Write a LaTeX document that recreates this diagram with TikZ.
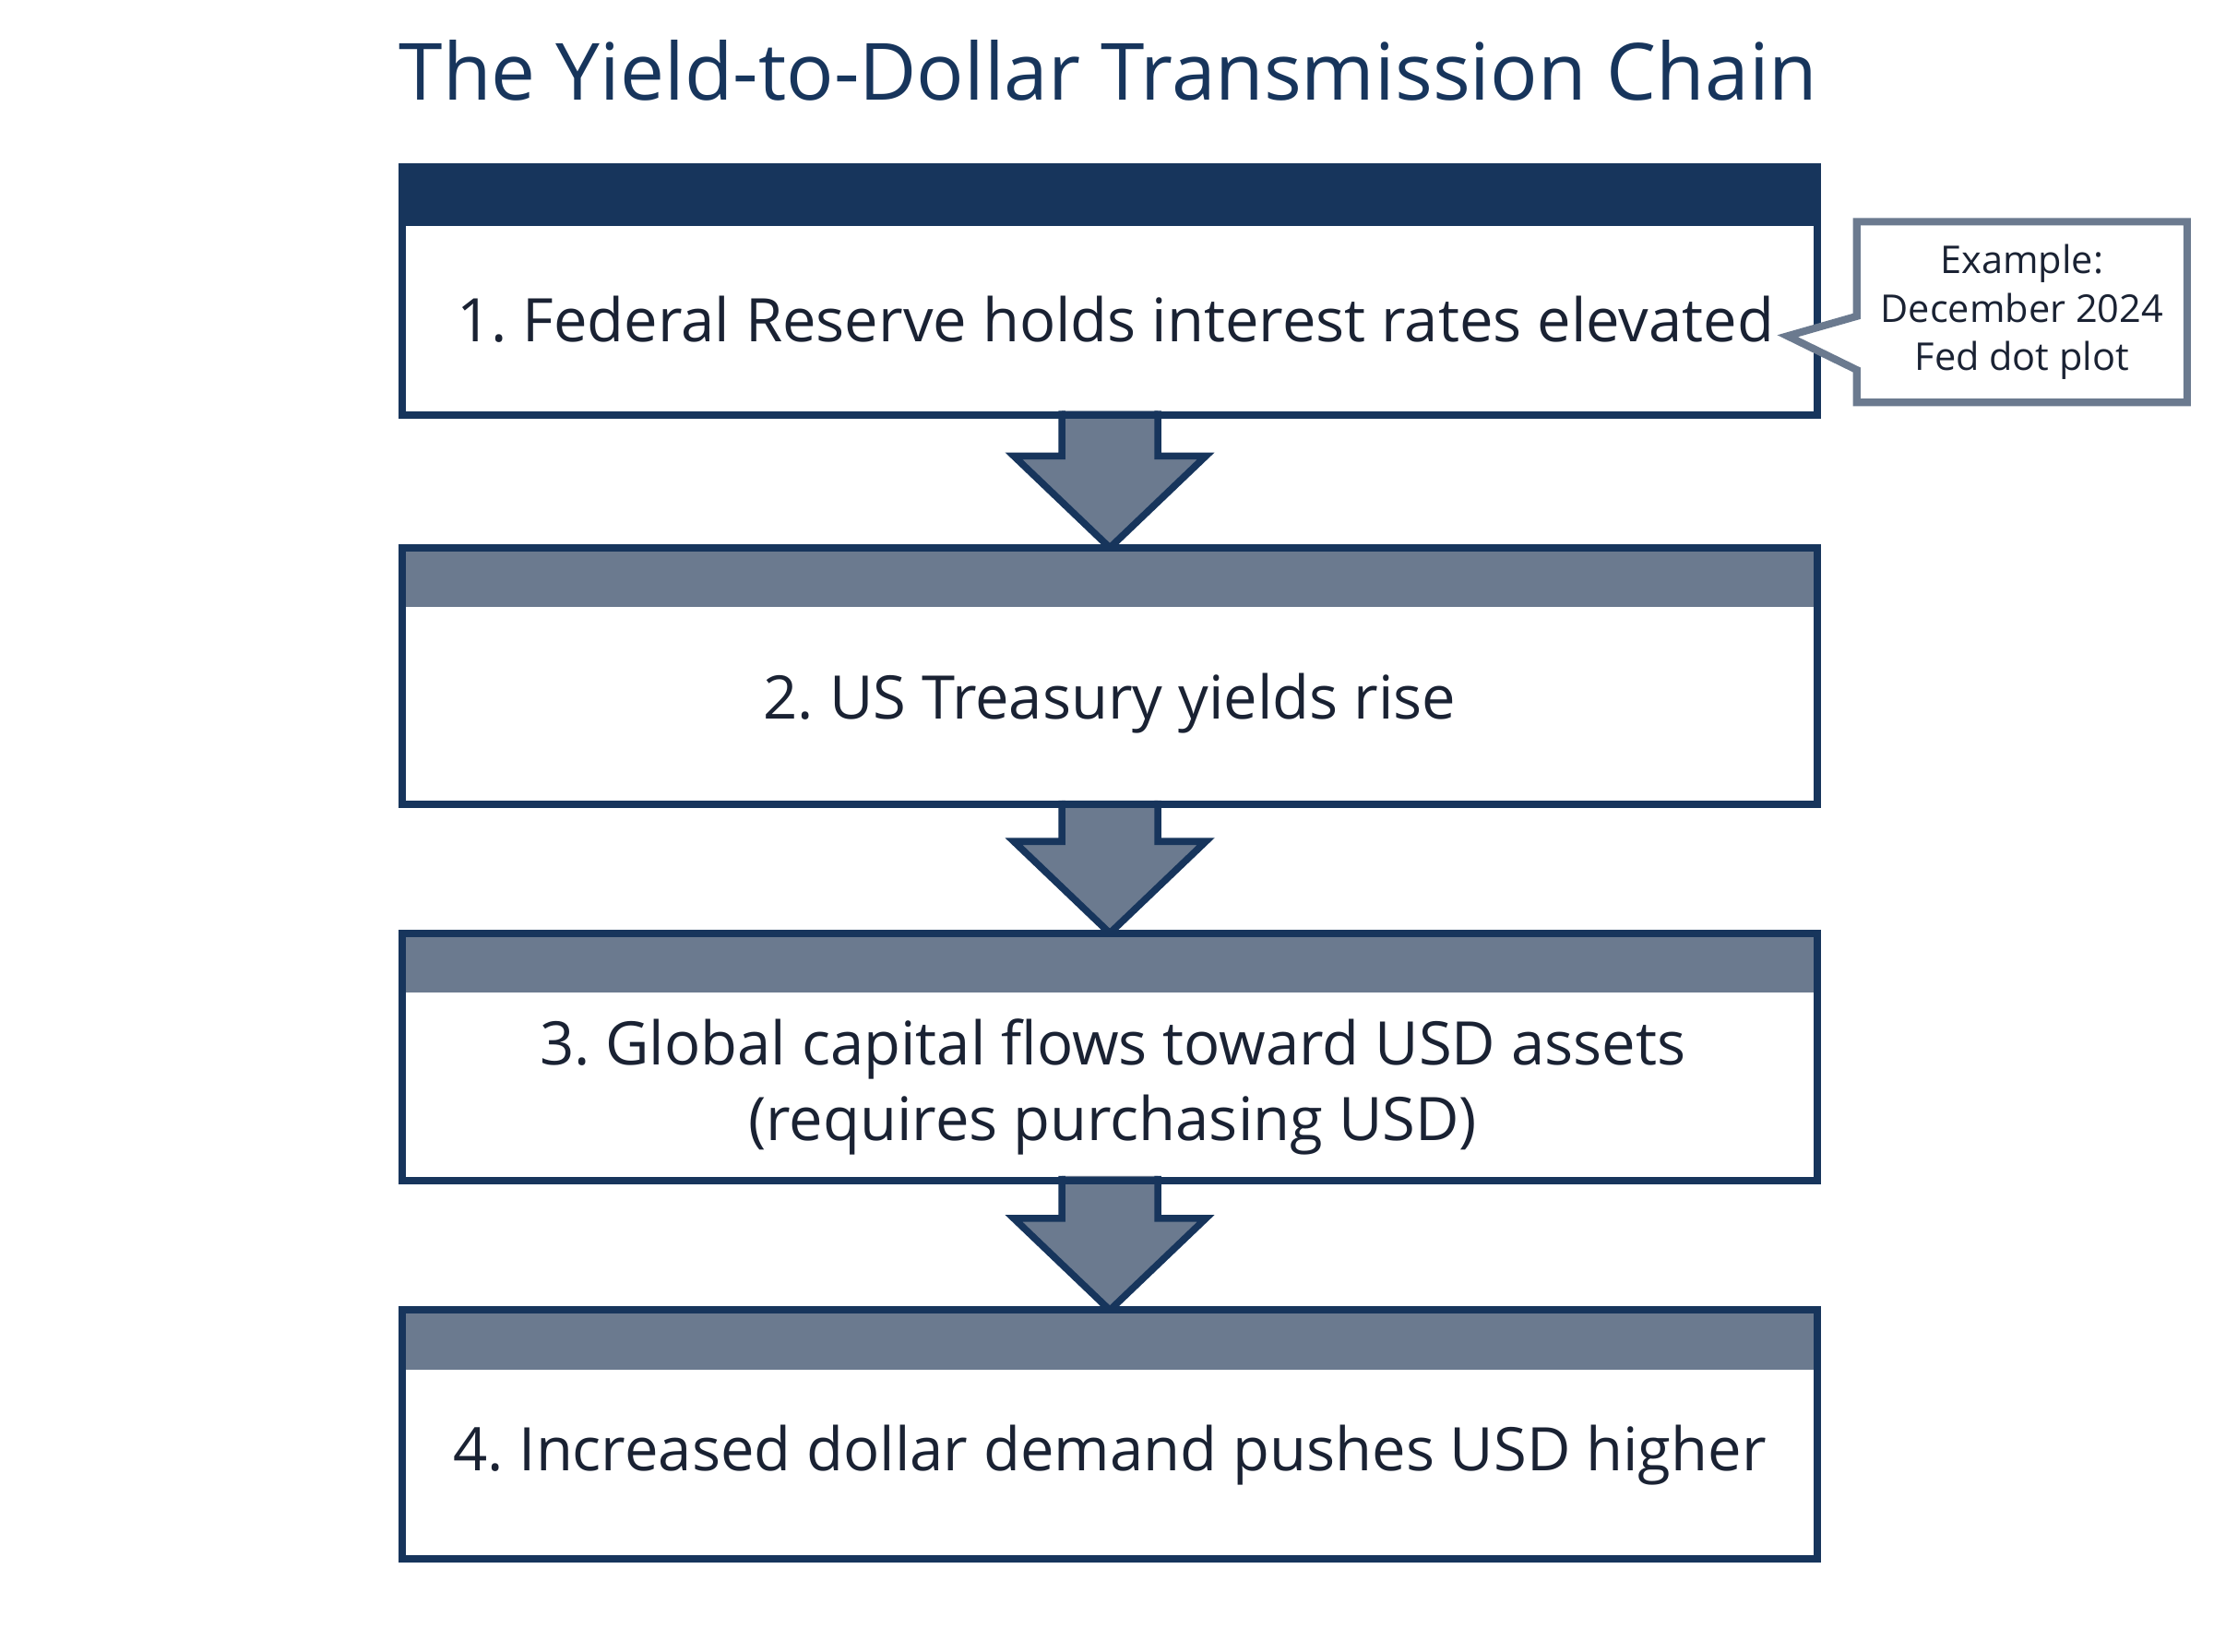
\documentclass[tikz,border=0pt]{standalone}
\usepackage{fontspec}
\setmainfont{Open Sans}
\frenchspacing
\definecolor{navy}{HTML}{17355C}
\definecolor{slate}{HTML}{6B7A8F}
\definecolor{ink}{HTML}{1A2233}
\begin{document}
\begin{tikzpicture}[x=0.01cm,y=-0.01cm,
  stepbox/.style={draw=navy,line width=1.5pt,fill=white},
  bodytext/.style={font=\fontsize{12.1}{15.3}\selectfont,text=ink,align=center},
  flowarrow/.style={draw=navy,line width=1.4pt,fill=slate,line join=miter}]
\useasboundingbox[fill=white] (0,0) rectangle (1568,1170);
\node[font=\fontsize{15.9}{19}\selectfont,text=navy] (title) at (785,50) {The Yield-to-Dollar Transmission Chain};
% arrows
\foreach \t/\b [count=\i] in {294/388,570/661,836/928}{
  \draw[flowarrow] (752,\t-3) -- (752,{\b-65}) -- (718,{\b-65}) -- (786,\b) -- (854,{\b-65}) -- (820,{\b-65}) -- (820,\t-3);
}
% boxes
\foreach \t/\b/\c/\n in {118/294/navy/b1,388/570/slate/b2,661/836/slate/b3,928/1104/slate/b4}{
  \fill[\c] (285,\t) rectangle (1287,\t+42);
  \draw[stepbox,fill=none] (285,\t) rectangle (1287,\b);
  \coordinate (\n) at (786,{(\t+42+\b)/2});
}
\node[bodytext] (t1) at (790,226) {1. Federal Reserve holds interest rates elevated};
\node[bodytext] (t2) at (786,498) {2. US Treasury yields rise};
\node[bodytext] (t3) at (788,770) {3. Global capital flows toward USD assets\\(requires purchasing USD)};
\node[bodytext] (t4) at (786,1031) {4. Increased dollar demand pushes USD higher};
% callout
\draw[draw=slate,line width=1.5pt,fill=white,line join=miter] (1315,157) -- (1549,157) -- (1549,285) -- (1315,285) -- (1315,262) -- (1266,238) -- (1315,224) -- cycle;
\node[font=\fontsize{7.7}{9.7}\selectfont,text=ink,align=center] (c) at (1432,221) {Example:\\December 2024\\Fed dot plot};
\end{tikzpicture}
\end{document}
